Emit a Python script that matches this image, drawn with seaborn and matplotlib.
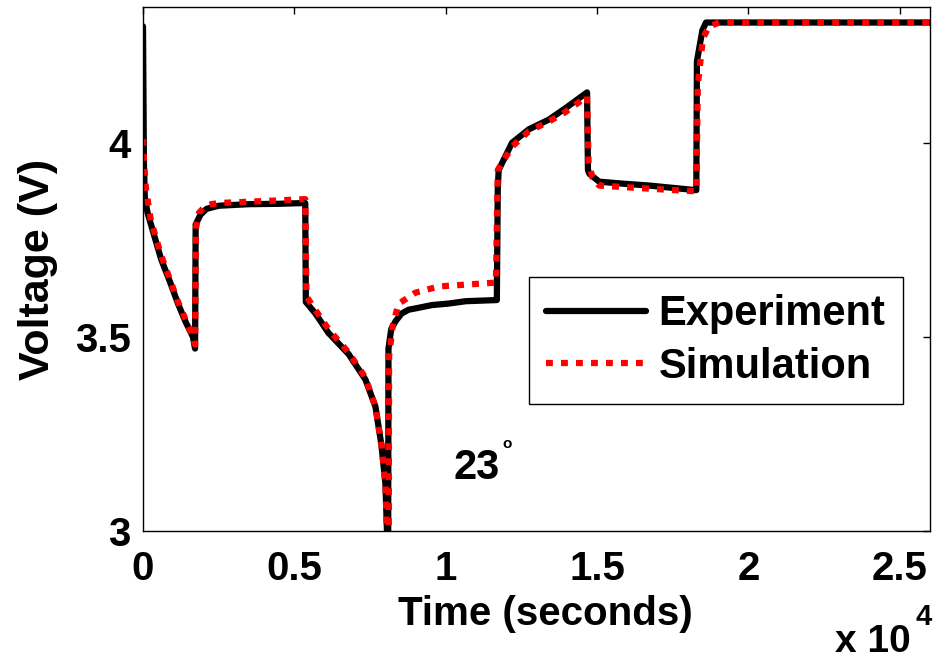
import pandas as pd
import matplotlib
matplotlib.use("Agg")
import matplotlib.pyplot as plt
import seaborn as sns

# Data (time in seconds, voltage in volts)
exp_time = [0, 30, 60, 150, 300, 600, 900, 1160, 1400, 1650, 1720,
            1740, 1900, 2100, 2500, 3500, 4500, 5360,
            5380, 5700, 6130, 6790, 7350, 7680, 7880, 8010, 8060, 8100,
            8110, 8200, 8340, 8540, 8770, 9100, 9540, 10100, 10660, 11690,
            11720, 11750, 12190, 12750, 13410, 13970, 14670,
            14700, 14750, 15070, 15830, 16720, 18280,
            18300, 18480, 18600, 26000]
exp_volt = [4.30, 3.95, 3.86, 3.82, 3.78, 3.70, 3.64, 3.585, 3.54, 3.50, 3.47,
            3.79, 3.815, 3.83, 3.838, 3.842, 3.843, 3.845,
            3.59, 3.56, 3.51, 3.456, 3.39, 3.32, 3.22, 3.12, 3.0, 2.99,
            3.47, 3.52, 3.54, 3.56, 3.57, 3.575, 3.582, 3.586, 3.592, 3.595,
            3.88, 3.93, 4.00, 4.035, 4.06, 4.09, 4.13,
            3.93, 3.92, 3.90, 3.895, 3.89, 3.878,
            4.21, 4.29, 4.31, 4.31]

sim_time = [0, 50, 100, 260, 600, 1160, 1650, 1720,
            1750, 1850, 2100, 2500, 4000, 5360,
            5400, 5600, 6130, 6790, 7350, 7680, 7880, 8010, 8060, 8120,
            8130, 8250, 8440, 9000, 9770, 11090, 11660,
            11720, 12190, 12750, 13410, 13970, 14670,
            14720, 14850, 15070, 16720, 18280,
            18330, 18500, 18700, 19040, 26000]
sim_volt = [4.01, 3.93, 3.88, 3.80, 3.71, 3.59, 3.50, 3.48,
            3.78, 3.82, 3.84, 3.845, 3.85, 3.855,
            3.605, 3.58, 3.52, 3.46, 3.395, 3.32, 3.22, 3.12, 2.99, 2.99,
            3.45, 3.53, 3.585, 3.614, 3.63, 3.637, 3.64,
            3.93, 3.99, 4.03, 4.055, 4.08, 4.12,
            3.95, 3.91, 3.89, 3.882, 3.875,
            4.15, 4.27, 4.30, 4.31, 4.31]

xticks = [0, 5000, 10000, 15000, 20000, 25000]
xtick_labels = ['0', '0.5', '1', '1.5', '2', '2.5']
yticks = [3, 3.5, 4]
ytick_labels = ['3', '3.5', '4']

df_exp = pd.DataFrame({'Time': exp_time, 'Voltage': exp_volt})
df_sim = pd.DataFrame({'Time': sim_time, 'Voltage': sim_volt})

sns.set_style("white")
plt.rcParams['font.family'] = ['Liberation Sans', 'DejaVu Sans']
plt.rcParams['font.weight'] = 'bold'
plt.rcParams['text.color'] = 'black'
plt.rcParams['axes.labelcolor'] = 'black'
plt.rcParams['xtick.color'] = 'black'
plt.rcParams['ytick.color'] = 'black'

fig = plt.figure(figsize=(9.33, 6.6), dpi=100)
ax = fig.add_axes([143 / 933, 1 - 531 / 660, 787 / 933, 524 / 660])

sns.lineplot(x='Time', y='Voltage', data=df_exp, ax=ax, color='black',
             linewidth=4.5, estimator=None, sort=False, label='Experiment')
sns.lineplot(x='Time', y='Voltage', data=df_sim, ax=ax, color='red',
             linewidth=4.5, estimator=None, sort=False, label='Simulation',
             linestyle=(0, (1.1, 1.3)))

ax.set_xlim(0, 26000)
ax.set_ylim(3, 4.35)
ax.set_xticks(xticks)
ax.set_xticklabels(xtick_labels)
ax.set_yticks(yticks)
ax.set_yticklabels(ytick_labels)
ax.tick_params(axis='both', direction='in', length=5, width=1,
               top=True, right=True, labelsize=29, colors='black')
ax.tick_params(axis='x', pad=14)
ax.tick_params(axis='y', pad=9)
for lab in ax.get_xticklabels() + ax.get_yticklabels():
    lab.set_fontweight('bold')
for sp in ax.spines.values():
    sp.set_color('black')
    sp.set_linewidth(1.0)

ax.set_xlabel('Time (seconds)', fontsize=29, fontweight='bold')
ax.set_ylabel('Voltage (V)', fontsize=31, fontweight='bold')
ax.xaxis.set_label_coords(0.511, -0.122)
ax.yaxis.set_label_coords(-0.108, 0.5)

ax.text(10260, 3.134, '23', fontsize=30, fontweight='bold', va='baseline')
ax.text(11880, 3.213, 'o', fontsize=11, va='baseline')

fig.text(835 / 933, 1 - 652 / 660, 'x 10', fontsize=28, fontweight='bold',
         va='baseline', ha='left')
fig.text(915 / 933, 1 - 625 / 660, '4', fontsize=21, fontweight='bold',
         va='baseline', ha='left')

leg = ax.legend(loc='upper left', bbox_to_anchor=(0.490, 0.485),
                fontsize=30, frameon=True, fancybox=False, framealpha=1,
                edgecolor='black', handlelength=2.4, handletextpad=0.3,
                borderpad=0.42, labelspacing=0.3, borderaxespad=0)
leg.get_frame().set_linewidth(1.0)
for t in leg.get_texts():
    t.set_fontweight('bold')

plt.savefig('out.png', dpi=100)
